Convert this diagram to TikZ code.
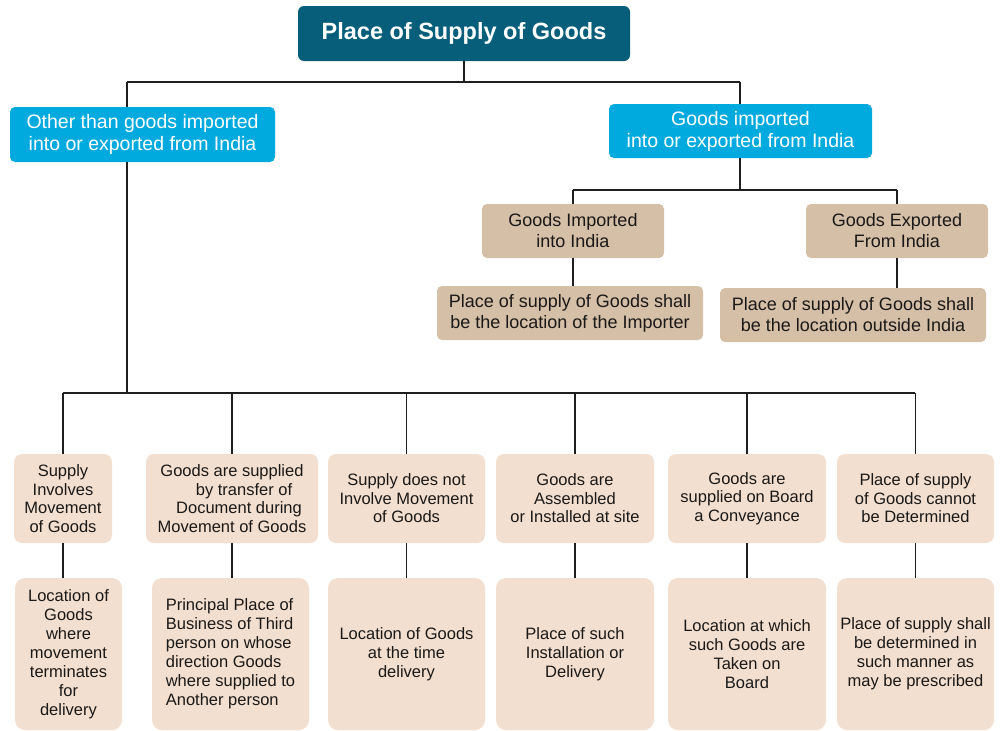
\documentclass[tikz,border=0pt]{standalone}
\usepackage{fontspec}
\setmainfont{Liberation Sans}
\definecolor{topc}{RGB}{6,94,123}
\definecolor{bluec}{RGB}{0,169,222}
\definecolor{tanc}{RGB}{213,191,167}
\definecolor{peachc}{RGB}{243,223,207}
\definecolor{linec}{RGB}{30,30,30}
\begin{document}
\begin{tikzpicture}[x=1pt,y=-1pt,
  box/.style={rectangle, inner sep=0pt, align=center, draw=none},
  topbox/.style={box, fill=topc, rounded corners=6pt, text=white, font=\fontsize{23.5}{26}\selectfont\bfseries},
  bluebox/.style={box, fill=bluec, rounded corners=5pt, text=white, font=\fontsize{19.5}{22}\selectfont},
  tanbox/.style={box, fill=tanc, rounded corners=5pt, text=black!90, font=\fontsize{18}{21}\selectfont},
  upbox/.style={box, fill=peachc, rounded corners=8pt, text=black!90, minimum height=89pt, font=\fontsize{16.5}{18.5}\selectfont},
  lowbox/.style={box, fill=peachc, rounded corners=10pt, text=black!90, minimum height=152pt, font=\fontsize{16.5}{19}\selectfont},
  conn/.style={draw=linec, line width=1.2pt}]
\useasboundingbox (0,0) rectangle (1002,731);

\node[topbox, minimum width=332pt, minimum height=55pt] (top) at (464,33.5) {Place of Supply of Goods};
\node[bluebox, minimum width=265pt, minimum height=55pt] (lb) at (142.5,134.5) {Other than goods imported\\into or exported from India};
\node[bluebox, minimum width=263pt, minimum height=54pt] (rb) at (740.5,131) {Goods imported\\into or exported from India};
\node[tanbox, minimum width=182pt, minimum height=54pt] (imp) at (573,231) {Goods Imported\\into India};
\node[tanbox, minimum width=182pt, minimum height=54pt] (exp) at (897,231) {Goods Exported\\From India};
\node[tanbox, minimum width=266pt, minimum height=54pt] (pimp) at (570,313) {Place of supply of Goods shall\\be the location of the Importer};
\node[tanbox, minimum width=266pt, minimum height=54pt] (pexp) at (853,315) {Place of supply of Goods shall\\be the location outside India};

\node[upbox, minimum width=98pt] (u1) at (63,498.5) {Supply\\Involves\\Movement\\of Goods};
\node[upbox, minimum width=172pt] (u2) at (232,498.5) {Goods are supplied\\\hspace*{24pt}by transfer of\\\hspace*{14pt}Document during\\Movement of Goods};
\node[upbox, minimum width=157pt] (u3) at (406.5,498.5) {Supply does not\\Involve Movement\\of Goods};
\node[upbox, minimum width=158pt] (u4) at (575,498.5) {Goods are\\Assembled\\or Installed at site};
\node[upbox, minimum width=158pt] (u5) at (747,498.5) {Goods are\\supplied on Board\\a Conveyance};
\node[upbox, minimum width=157pt] (u6) at (915.5,498.5) {Place of supply\\of Goods cannot\\be Determined};

\node[lowbox, minimum width=107pt] (l1) at (68.5,654) {Location of\\Goods\\where\\movement\\terminates\\for\\delivery};
\node[lowbox, minimum width=157pt, align=left] (l2) at (230.5,654) {Principal Place of\\Business of Third\\person on whose\\direction Goods\\where supplied to\\Another person};
\node[lowbox, minimum width=157pt] (l3) at (406.5,654) {Location of Goods\\at the time\\delivery};
\node[lowbox, minimum width=158pt] (l4) at (575,654) {Place of such\\Installation or\\Delivery};
\node[lowbox, minimum width=158pt] (l5) at (747,654) {Location at which\\such Goods are\\Taken on\\Board};
\node[lowbox, minimum width=157pt] (l6) at (915.5,654) {Place of supply shall\\be determined in\\such manner as\\may be prescribed};

\coordinate (h0l) at (127,82);
\coordinate (h0r) at (740,82);
\coordinate (hb) at (127,393);
\coordinate (hbl) at (63,393);
\coordinate (hbr) at (915,393);
\coordinate (h2l) at (573,190);
\coordinate (h2r) at (897,190);

\draw[conn] (top.south) -- (top.south |- h0l);
\draw[conn] (h0l) -- (h0r);
\draw[conn] (h0l) -- (h0l |- lb.north);
\draw[conn] (h0r) -- (h0r |- rb.north);
\draw[conn] (h0l |- lb.south) -- (hb);
\draw[conn] (hbl) -- (hbr);
\draw[conn] (rb.south -| h0r) -- (h0r |- h2l);
\draw[conn] (h2l) -- (h2r);
\draw[conn] (h2l) -- (h2l |- imp.north);
\draw[conn] (h2r) -- (h2r |- exp.north);
\draw[conn] (imp.south) -- (imp.south |- pimp.north);
\draw[conn] (exp.south) -- (exp.south |- pexp.north);
\foreach \n/\m in {u1/l1,u2/l2,u3/l3,u4/l4,u5/l5,u6/l6}{
  \draw[conn] (\n.north |- hbl) -- (\n.north);
  \draw[conn] (\n.south) -- (\n.south |- \m.north);
}
\end{tikzpicture}
\end{document}
